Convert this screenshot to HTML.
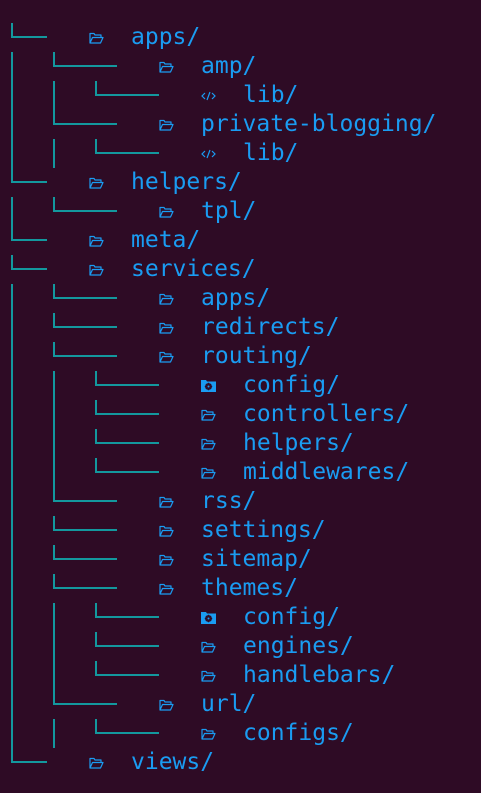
<!DOCTYPE html>
<html><head><style>
html,body{margin:0;padding:0;background:#2e0b25;width:481px;height:793px;overflow:hidden}
.l{position:absolute;background:#13989e}
.v{position:absolute;background:#13989e;width:2px}
.t{position:absolute;height:29px;line-height:29px;font-family:"DejaVu Sans Mono","Liberation Mono",monospace;font-size:23px;color:#1a9cf2;white-space:pre}
svg.i{position:absolute;width:15px;height:12px}
</style></head><body>
<!-- level0 verticals -->
<div class="v" style="left:11px;top:23px;height:15px"></div>
<div class="v" style="left:11px;top:52px;height:131px"></div>
<div class="v" style="left:11px;top:197px;height:44px"></div>
<div class="v" style="left:11px;top:255px;height:15px"></div>
<div class="v" style="left:11px;top:284px;height:479px"></div>
<!-- level0 horizontals -->
<div class="l" style="left:11px;top:36px;width:36px;height:2px"></div>
<div class="l" style="left:11px;top:181px;width:36px;height:2px"></div>
<div class="l" style="left:11px;top:239px;width:36px;height:2px"></div>
<div class="l" style="left:11px;top:268px;width:36px;height:2px"></div>
<div class="l" style="left:11px;top:761px;width:36px;height:2px"></div>
<!-- level1 verticals -->
<div class="v" style="left:53px;top:52px;height:15px"></div>
<div class="v" style="left:53px;top:81px;height:44px"></div>
<div class="v" style="left:53px;top:139px;height:29px"></div>
<div class="v" style="left:53px;top:197px;height:15px"></div>
<div class="v" style="left:53px;top:284px;height:15px"></div>
<div class="v" style="left:53px;top:313px;height:15px"></div>
<div class="v" style="left:53px;top:342px;height:15px"></div>
<div class="v" style="left:53px;top:371px;height:131px"></div>
<div class="v" style="left:53px;top:516px;height:15px"></div>
<div class="v" style="left:53px;top:545px;height:15px"></div>
<div class="v" style="left:53px;top:574px;height:15px"></div>
<div class="v" style="left:53px;top:603px;height:102px"></div>
<div class="v" style="left:53px;top:719px;height:29px"></div>
<!-- level1 horizontals -->
<div class="l" style="left:53px;top:65px;width:64px;height:2px"></div>
<div class="l" style="left:53px;top:123px;width:64px;height:2px"></div>
<div class="l" style="left:53px;top:210px;width:64px;height:2px"></div>
<div class="l" style="left:53px;top:297px;width:64px;height:2px"></div>
<div class="l" style="left:53px;top:326px;width:64px;height:2px"></div>
<div class="l" style="left:53px;top:355px;width:64px;height:2px"></div>
<div class="l" style="left:53px;top:500px;width:64px;height:2px"></div>
<div class="l" style="left:53px;top:529px;width:64px;height:2px"></div>
<div class="l" style="left:53px;top:558px;width:64px;height:2px"></div>
<div class="l" style="left:53px;top:587px;width:64px;height:2px"></div>
<div class="l" style="left:53px;top:703px;width:64px;height:2px"></div>
<!-- level2 verticals -->
<div class="v" style="left:95px;top:81px;height:15px"></div>
<div class="v" style="left:95px;top:139px;height:15px"></div>
<div class="v" style="left:95px;top:371px;height:15px"></div>
<div class="v" style="left:95px;top:400px;height:15px"></div>
<div class="v" style="left:95px;top:429px;height:15px"></div>
<div class="v" style="left:95px;top:458px;height:15px"></div>
<div class="v" style="left:95px;top:603px;height:15px"></div>
<div class="v" style="left:95px;top:632px;height:15px"></div>
<div class="v" style="left:95px;top:661px;height:15px"></div>
<div class="v" style="left:95px;top:719px;height:15px"></div>
<!-- level2 horizontals -->
<div class="l" style="left:95px;top:94px;width:64px;height:2px"></div>
<div class="l" style="left:95px;top:152px;width:64px;height:2px"></div>
<div class="l" style="left:95px;top:384px;width:64px;height:2px"></div>
<div class="l" style="left:95px;top:413px;width:64px;height:2px"></div>
<div class="l" style="left:95px;top:442px;width:64px;height:2px"></div>
<div class="l" style="left:95px;top:471px;width:64px;height:2px"></div>
<div class="l" style="left:95px;top:616px;width:64px;height:2px"></div>
<div class="l" style="left:95px;top:645px;width:64px;height:2px"></div>
<div class="l" style="left:95px;top:674px;width:64px;height:2px"></div>
<div class="l" style="left:95px;top:732px;width:64px;height:2px"></div>

<svg width="0" height="0" style="position:absolute"><defs>
<symbol id="f" viewBox="0 0 15 12"><path d="M1 11V1.5h4l1 1.5h6v2.5M1 11l2.5-5.5H14L11.5 11Z" fill="none" stroke="#1a9cf2" stroke-width="1.2" stroke-linejoin="round"/></symbol>
<symbol id="c" viewBox="0 0 15 12"><path d="M4 3L1 6l3 3M11 3l3 3-3 3M9 2L6 10" fill="none" stroke="#1a9cf2" stroke-width="1.2"/></symbol>
<symbol id="g" viewBox="0 0 15 12"><path d="M0 0h5l1 1.5h9V12H0Z" fill="#1a9cf2"/><circle cx="7.5" cy="6.5" r="2.6" fill="none" stroke="#2e0b25" stroke-width="1.6"/><path d="M7.5 2.8v7.4M3.8 6.5h7.4M5 4l5 5M10 4l-5 5" stroke="#2e0b25" stroke-width="1.2"/><circle cx="7.5" cy="6.5" r="1" fill="#1a9cf2"/></symbol>
</defs></svg>

<svg class="i" style="left:89px;top:32px"><use href="#f"/></svg><div class="t" style="left:131px;top:23px">apps/</div>
<svg class="i" style="left:159px;top:61px"><use href="#f"/></svg><div class="t" style="left:201px;top:52px">amp/</div>
<svg class="i" style="left:201px;top:90px"><use href="#c"/></svg><div class="t" style="left:243px;top:81px">lib/</div>
<svg class="i" style="left:159px;top:119px"><use href="#f"/></svg><div class="t" style="left:201px;top:110px">private-blogging/</div>
<svg class="i" style="left:201px;top:148px"><use href="#c"/></svg><div class="t" style="left:243px;top:139px">lib/</div>
<svg class="i" style="left:89px;top:177px"><use href="#f"/></svg><div class="t" style="left:131px;top:168px">helpers/</div>
<svg class="i" style="left:159px;top:206px"><use href="#f"/></svg><div class="t" style="left:201px;top:197px">tpl/</div>
<svg class="i" style="left:89px;top:235px"><use href="#f"/></svg><div class="t" style="left:131px;top:226px">meta/</div>
<svg class="i" style="left:89px;top:264px"><use href="#f"/></svg><div class="t" style="left:131px;top:255px">services/</div>
<svg class="i" style="left:159px;top:293px"><use href="#f"/></svg><div class="t" style="left:201px;top:284px">apps/</div>
<svg class="i" style="left:159px;top:322px"><use href="#f"/></svg><div class="t" style="left:201px;top:313px">redirects/</div>
<svg class="i" style="left:159px;top:351px"><use href="#f"/></svg><div class="t" style="left:201px;top:342px">routing/</div>
<svg class="i" style="left:201px;top:380px"><use href="#g"/></svg><div class="t" style="left:243px;top:371px">config/</div>
<svg class="i" style="left:201px;top:409px"><use href="#f"/></svg><div class="t" style="left:243px;top:400px">controllers/</div>
<svg class="i" style="left:201px;top:438px"><use href="#f"/></svg><div class="t" style="left:243px;top:429px">helpers/</div>
<svg class="i" style="left:201px;top:467px"><use href="#f"/></svg><div class="t" style="left:243px;top:458px">middlewares/</div>
<svg class="i" style="left:159px;top:496px"><use href="#f"/></svg><div class="t" style="left:201px;top:487px">rss/</div>
<svg class="i" style="left:159px;top:525px"><use href="#f"/></svg><div class="t" style="left:201px;top:516px">settings/</div>
<svg class="i" style="left:159px;top:554px"><use href="#f"/></svg><div class="t" style="left:201px;top:545px">sitemap/</div>
<svg class="i" style="left:159px;top:583px"><use href="#f"/></svg><div class="t" style="left:201px;top:574px">themes/</div>
<svg class="i" style="left:201px;top:612px"><use href="#g"/></svg><div class="t" style="left:243px;top:603px">config/</div>
<svg class="i" style="left:201px;top:641px"><use href="#f"/></svg><div class="t" style="left:243px;top:632px">engines/</div>
<svg class="i" style="left:201px;top:670px"><use href="#f"/></svg><div class="t" style="left:243px;top:661px">handlebars/</div>
<svg class="i" style="left:159px;top:699px"><use href="#f"/></svg><div class="t" style="left:201px;top:690px">url/</div>
<svg class="i" style="left:201px;top:728px"><use href="#f"/></svg><div class="t" style="left:243px;top:719px">configs/</div>
<svg class="i" style="left:89px;top:757px"><use href="#f"/></svg><div class="t" style="left:131px;top:748px">views/</div>
</body></html>
